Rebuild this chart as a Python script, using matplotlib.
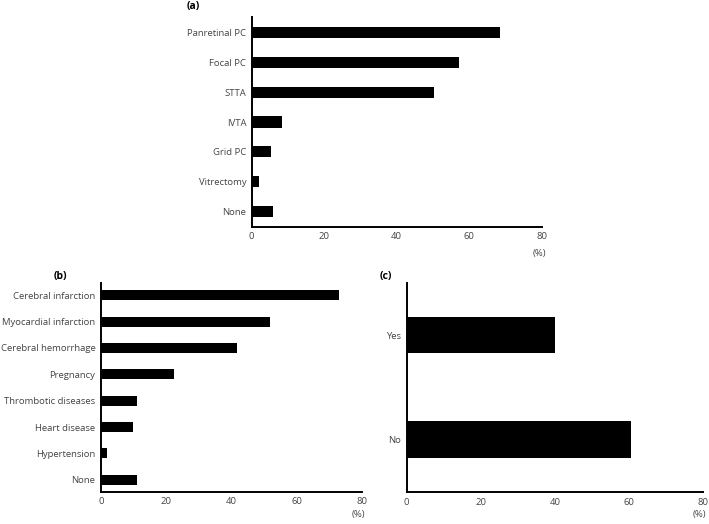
import matplotlib
matplotlib.use("Agg")
import matplotlib.pyplot as plt

plt.rcParams['font.family'] = ['Open Sans', 'DejaVu Sans']

a_labels = ["Panretinal PC", "Focal PC", "STTA", "IVTA", "Grid PC", "Vitrectomy", "None"]
a_values = [68.6, 57.2, 50.4, 8.3, 5.3, 1.9, 6.0]

b_labels = ["Cerebral infarction", "Myocardial infarction", "Cerebral hemorrhage", "Pregnancy",
            "Thrombotic diseases", "Heart disease", "Hypertension", "None"]
b_values = [73.0, 51.9, 41.7, 22.4, 10.9, 9.9, 1.8, 10.9]

c_labels = ["Yes", "No"]
c_values = [39.9, 60.4]

x_ticks = [0, 20, 40, 60, 80]

W, H = 709, 524
fig = plt.figure(figsize=(W / 100, H / 100), dpi=100)

def px_axes(left, top, right, bottom):
    return fig.add_axes([left / W, 1 - bottom / H, (right - left) / W, (bottom - top) / H])

tick_color = "#444444"
fs = 6.8

def style(ax, labels, values, height, ylim):
    y = list(range(len(labels)))
    ax.barh(y, values, height=height, color="black")
    ax.set_ylim(*ylim)
    ax.set_yticks(y)
    ax.set_yticklabels(labels)
    ax.set_xlim(0, 80)
    ax.set_xticks(x_ticks)
    ax.set_xticklabels([str(t) for t in x_ticks])
    for s in ["top", "right"]:
        ax.spines[s].set_visible(False)
    for s in ["left", "bottom"]:
        ax.spines[s].set_linewidth(1.4)
        ax.spines[s].set_color("black")
    ax.tick_params(axis="both", length=0, labelsize=fs, colors=tick_color)
    ax.tick_params(axis="y", pad=4)
    ax.tick_params(axis="x", pad=4)

ax_a = px_axes(251.7, 17.3, 541.7, 226.7)
style(ax_a, a_labels, a_values, 0.37, (6.5, -0.5))
ax_b = px_axes(101, 283.3, 361.7, 491.7)
style(ax_b, b_labels, b_values, 0.38, (7.45, -0.45))
ax_c = px_axes(406.7, 282.7, 703.3, 492.2)
style(ax_c, c_labels, c_values, 0.35, (1.5, -0.5))

def ptext(x, y, s, **kw):
    fig.text(x / W, 1 - y / H, s, **kw)

ptext(546, 253.3, "(%)", fontsize=fs, color=tick_color, ha="right", va="center")
ptext(365.5, 514.5, "(%)", fontsize=fs, color=tick_color, ha="right", va="center")
ptext(706, 514.5, "(%)", fontsize=fs, color=tick_color, ha="right", va="center")

ptext(187, 7, "(a)", fontsize=7.5, fontweight="bold", va="center", ha="left")
ptext(54, 276, "(b)", fontsize=7.5, fontweight="bold", va="center", ha="left")
ptext(380, 276, "(c)", fontsize=7.5, fontweight="bold", va="center", ha="left")

fig.savefig("out.png", dpi=100)
